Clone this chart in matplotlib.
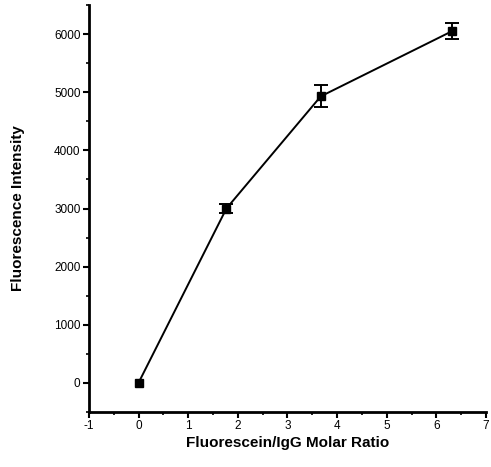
import matplotlib.pyplot as plt
from matplotlib.ticker import MultipleLocator

# data
ratio = [0, 1.77, 3.67, 6.31]
intensity = [0, 3000, 4930, 6050]
err = [0, 80, 190, 140]

plt.rcParams['font.family'] = ['Liberation Sans', 'DejaVu Sans']
plt.rcParams['axes.unicode_minus'] = False

fig = plt.figure(figsize=(4.91, 4.67), dpi=100)
ax = fig.add_axes([0.181, 0.118, 0.809, 0.871])

ax.plot(ratio, intensity, color='black', marker='s', markersize=6, linewidth=1.4)
# error bars only where there is a spread
ex = [x for x, e in zip(ratio, err) if e > 0]
ey = [y for y, e in zip(intensity, err) if e > 0]
ee = [e for e in err if e > 0]
ax.errorbar(ex, ey, yerr=ee, fmt='none', ecolor='black',
            elinewidth=1.4, capsize=5, capthick=1.4)

ax.set_xlim(-1, 7)
ax.set_ylim(-500, 6500)
ax.xaxis.set_major_locator(MultipleLocator(1))
ax.xaxis.set_minor_locator(MultipleLocator(0.5))
ax.yaxis.set_major_locator(MultipleLocator(1000))
ax.yaxis.set_minor_locator(MultipleLocator(500))

for s in ['top', 'right']:
    ax.spines[s].set_visible(False)
for s in ['left', 'bottom']:
    ax.spines[s].set_linewidth(2)

ax.tick_params(which='major', direction='out', length=4, width=1.5, labelsize=8.5, pad=2)
ax.tick_params(which='minor', direction='out', length=2.5, width=1.2)

ax.set_xlabel('Fluorescein/IgG Molar Ratio', fontsize=11, fontweight='bold', labelpad=3)
ax.set_ylabel('Fluorescence Intensity', fontsize=11, fontweight='bold', labelpad=21)

fig.savefig('out.png', dpi=100)
